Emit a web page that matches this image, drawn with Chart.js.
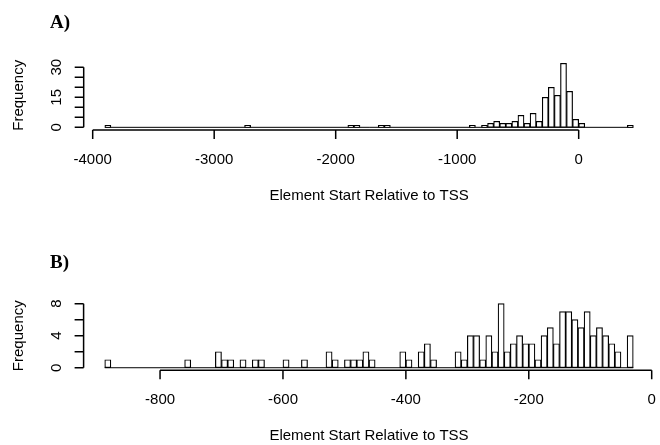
<!DOCTYPE html>
<html>
<head>
<meta charset="utf-8">
<script src="https://cdn.jsdelivr.net/npm/chart.js@4"></script>
<style>
  body { margin: 0; background: #fff; }
  #wrap { position: relative; width: 660px; height: 445px; }
  canvas { position: absolute; left: 0; }
</style>
</head>
<body>
<div id="wrap">
  <canvas id="chartA" width="660" height="222" style="top:0"></canvas>
  <canvas id="chartB" width="660" height="223" style="top:222px"></canvas>
</div>
<script>
// A) 50-wide bins, first edge -3900, last edge 450 (only non-empty bins listed)
const binStartsA = [-3900, -2750, -1900, -1850, -1650, -1600, -900, -800, -750, -700, -650, -600,
                    -550, -500, -450, -400, -350, -300, -250, -200, -150, -100, -50, 0, 400];
const countsA    = [1, 1, 1, 1, 1, 1, 1, 1, 2, 3, 2, 2,
                    3, 6, 2, 7, 3, 15, 20, 16, 32, 18, 4, 2, 1];
const edgesA = [-3900, 450];
const widthA = 50;
const xTicksA = [-4000, -3000, -2000, -1000, 0];
const yTicksA = [0, 5, 10, 15, 20, 25, 30];
const yLabelsA = [0, 15, 30];

// B) 10-wide bins, first edge -890, last edge -30
const binStartsB = [-890, -760, -710, -700, -690, -670, -650, -640, -600, -570, -530, -520,
                    -500, -490, -480, -470, -460, -410, -400, -380, -370, -360, -320, -310,
                    -300, -290, -280, -270, -260, -250, -240, -230, -220, -210, -200, -190,
                    -180, -170, -160, -150, -140, -130, -120, -110, -100, -90, -80, -70,
                    -60, -40];
const countsB    = [1, 1, 2, 1, 1, 1, 1, 1, 1, 1, 2, 1,
                    1, 1, 1, 2, 1, 2, 1, 2, 3, 1, 2, 1,
                    4, 4, 1, 4, 2, 8, 2, 3, 4, 3, 3, 1,
                    4, 5, 3, 7, 7, 6, 5, 7, 4, 5, 4, 3,
                    2, 4];
const edgesB = [-890, -30];
const widthB = 10;
const xTicksB = [-800, -600, -400, -200, 0];
const yTicksB = [0, 2, 4, 6, 8];
const yLabelsB = [0, 4, 8];

const xTitle = 'Element Start Relative to TSS';
const yTitle = 'Frequency';

// every bin between the edges, empty ones as 0
function histPoints(starts, counts, edges, w) {
  const pts = [];
  for (let s = edges[0]; s < edges[1]; s += w) {
    const i = starts.indexOf(s);
    pts.push({ x: s + w / 2, y: i < 0 ? 0 : counts[i] });
  }
  return pts;
}

// R-style axes: lines only between the outer ticks, ticks pointing out
const rAxes = {
  id: 'rAxes',
  afterDraw(chart, args, o) {
    const ctx = chart.ctx, a = chart.chartArea;
    const sx = chart.scales.x, sy = chart.scales.y;
    ctx.save();
    ctx.strokeStyle = '#000';
    ctx.fillStyle = '#000';
    ctx.lineWidth = 1.5;
    ctx.beginPath();
    ctx.moveTo(sx.getPixelForValue(o.xTicks[0]), a.bottom);
    ctx.lineTo(sx.getPixelForValue(o.xTicks[o.xTicks.length - 1]), a.bottom);
    o.xTicks.forEach(t => {
      const px = sx.getPixelForValue(t);
      ctx.moveTo(px, a.bottom);
      ctx.lineTo(px, a.bottom + 9);
    });
    ctx.moveTo(a.left, sy.getPixelForValue(o.yTicks[0]));
    ctx.lineTo(a.left, sy.getPixelForValue(o.yTicks[o.yTicks.length - 1]));
    o.yTicks.forEach(t => {
      const py = sy.getPixelForValue(t);
      ctx.moveTo(a.left, py);
      ctx.lineTo(a.left - 9, py);
    });
    ctx.stroke();

    ctx.font = '15px "Liberation Sans", Arial, sans-serif';
    ctx.textAlign = 'center';
    ctx.textBaseline = 'middle';
    o.xTicks.forEach(t => ctx.fillText(String(t), sx.getPixelForValue(t), a.bottom + 30));
    ctx.fillText(xTitle, (a.left + a.right) / 2, a.bottom + 66);

    o.yLabels.forEach(t => {
      ctx.save();
      ctx.translate(a.left - 27, sy.getPixelForValue(t));
      ctx.rotate(-Math.PI / 2);
      ctx.fillText(String(t), 0, 0);
      ctx.restore();
    });
    ctx.save();
    ctx.translate(19, (a.top + a.bottom) / 2);
    ctx.rotate(-Math.PI / 2);
    ctx.fillText(yTitle, 0, 0);
    ctx.restore();

    ctx.font = 'bold 19px "Liberation Serif", "DejaVu Serif", serif';
    ctx.textAlign = 'left';
    ctx.textBaseline = 'alphabetic';
    ctx.fillText(o.letter, 50, o.letterY);
    ctx.restore();
  }
};

function makeHist(id, starts, counts, edges, w, xTicks, yTicks, yLabels, letter, letterY, pad) {
  const pts = histPoints(starts, counts, edges, w);
  const span = edges[1] - edges[0];
  const ymax = Math.max(...counts);
  return new Chart(document.getElementById(id), {
    type: 'bar',
    data: {
      datasets: [{
        data: pts,
        backgroundColor: '#fff',
        borderColor: '#000',
        borderWidth: 1.2,
        borderSkipped: false,
        barPercentage: 1,
        categoryPercentage: 1
      }, {
        type: 'line',
        data: [{ x: edges[0], y: 0 }, { x: edges[1], y: 0 }],
        borderColor: '#000',
        borderWidth: 1,
        pointRadius: 0
      }]
    },
    options: {
      responsive: false,
      animation: false,
      devicePixelRatio: 1,
      layout: { padding: pad },
      plugins: {
        legend: { display: false },
        tooltip: { enabled: false },
        rAxes: { xTicks: xTicks, yTicks: yTicks, yLabels: yLabels, letter: letter, letterY: letterY }
      },
      scales: {
        x: {
          type: 'linear', display: false, offset: false,
          min: edges[0] - 0.04 * span, max: edges[1] + 0.04 * span
        },
        y: {
          display: false,
          min: -0.04 * ymax, max: ymax * 1.04
        }
      }
    },
    plugins: [rAxes]
  });
}

makeHist('chartA', binStartsA, countsA, edgesA, widthA, xTicksA, yTicksA, yLabelsA, 'A)', 28,
  { left: 83.7, right: 5.5, top: 60.7, bottom: 92.1 });
makeHist('chartB', binStartsB, countsB, edgesB, widthB, xTicksB, yTicksB, yLabelsB, 'B)', 46,
  { left: 83.6, right: 5.6, top: 79.1, bottom: 74.7 });
</script>
</body>
</html>
